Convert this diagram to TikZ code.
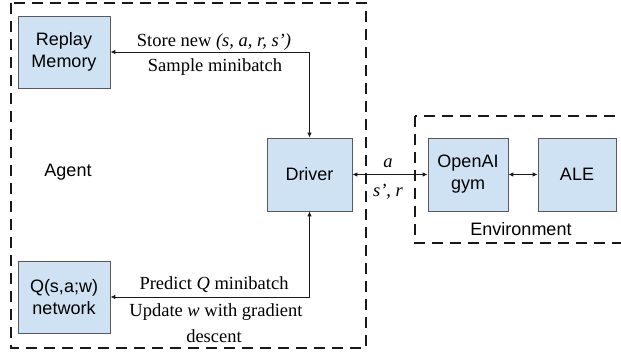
\documentclass[tikz,border=0pt]{standalone}
\usepackage{fontspec}
\setmainfont{Liberation Serif}
\newfontfamily\boxfont{Liberation Sans}
\usepackage{xcolor}
\usetikzlibrary{positioning,arrows.meta}

\definecolor{boxblue}{HTML}{CFE2F3}

\begin{document}
\begin{tikzpicture}[
    x=1pt, y=-1pt,
    >={Latex[length=5pt,width=4.5pt]},
    block/.style={rectangle, draw=black!65, fill=boxblue, line width=0.8pt, align=center,
        font=\boxfont\fontsize{18}{22}\selectfont, inner sep=0pt},
    frame/.style={draw=black!90, line width=2.8pt, dash pattern=on 11pt off 7pt},
    link/.style={<->, line width=0.9pt, black!90},
    label/.style={font=\fontsize{18.5}{22}\selectfont, align=center, inner sep=0pt},
    title/.style={font=\boxfont\fontsize{18}{22}\selectfont, inner sep=0pt}
]
\clip (0,0) rectangle (621,356);

% === Agent (left side) ===
\draw[frame] (11,3) rectangle (366,348);
\node[title] (agent) at (68,172) {Agent};

\node[block, minimum width=92pt, minimum height=72pt] (replay) at (64,52) {Replay\\Memory};
\node[block, minimum width=92pt, minimum height=72pt] (qnet) at (64,297) {Q(s,a;w)\\network};
\node[block, minimum width=85pt, minimum height=73pt] (driver) at (309.5,174.5) {Driver};

\draw[link] (replay.east) -| (driver.north);
\draw[link] (qnet.east) -| (driver.south);

\node[label] at (214,42) {Store new \textit{(s, a, r, s’)}};
\node[label] at (215,67) {Sample minibatch};
\node[label] at (214,285) {Predict \textit{Q} minibatch};
\node[label] at (216,312) {Update \textit{w} with gradient};
\node[label] at (214,336) {descent};

% === Environment (right side) ===
\draw[frame] (415,116) rectangle (640,243);
\node[title] (env) at (521,229) {Environment};

\node[block, minimum width=80pt, minimum height=73pt] (gym) at (468,174.5) {OpenAI\\gym};
\node[block, minimum width=78pt, minimum height=73pt] (ale) at (577,174.5) {ALE};

\draw[link] (driver.east) -- (gym.west);
\draw[link] (gym.east) -- (ale.west);

\node[label] at (388,163) {\textit{a}};
\node[label] at (388,192) {\textit{s’, r}};
\end{tikzpicture}
\end{document}
